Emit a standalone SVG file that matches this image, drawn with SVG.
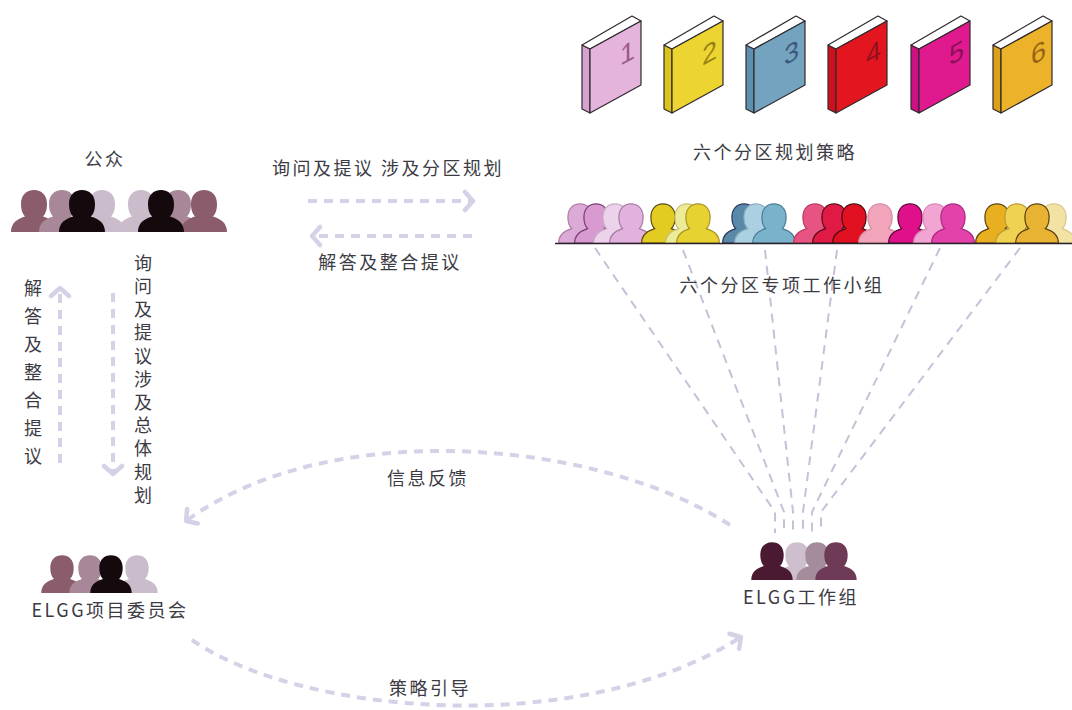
<svg xmlns="http://www.w3.org/2000/svg" xmlns:xlink="http://www.w3.org/1999/xlink" width="1072" height="710" viewBox="0 0 1072 710">
  <style>
    text { font-family: "Noto Sans CJK SC", "Noto Sans", sans-serif; fill: #3c3b44; font-size: 18px; }
    .lbl { letter-spacing: 2.5px; }
    .vert { writing-mode: tb; glyph-orientation-vertical: 0; }
    .num { font-family: "Liberation Sans", "Noto Sans", sans-serif; font-size: 27px; }
    .flow { fill: none; stroke: #d6d1e6; stroke-width: 4; stroke-dasharray: 9 7; }
    .fan { fill: none; stroke: #c6c0d8; stroke-width: 2; stroke-dasharray: 9 7; }
    .edge { stroke: #2e2a2e; stroke-width: 1.2; stroke-linejoin: round; }
    .crowd use { stroke-width: 1.3; }
  </style>
  <defs>
    <!-- head-and-shoulders silhouette, bottom centre at the origin, 42 tall -->
    <path id="person" d="M-23 0 C-23 -9 -17 -13 -9 -15.5 C-12 -18.5 -13 -23 -13 -28 C-13 -37 -7.5 -42 0 -42 C7.5 -42 13 -37 13 -28 C13 -23 12 -18.5 9 -15.5 C17 -13 23 -9 23 0 Z"/>
    <marker id="chev" markerUnits="userSpaceOnUse" markerWidth="20" markerHeight="24" viewBox="0 0 20 24" refX="11" refY="12" orient="auto">
      <path d="M3 3 L11 12 L3 21" fill="none" stroke="#d6d1e6" stroke-width="4.5" stroke-linecap="round" stroke-linejoin="round"/>
    </marker>
    <!-- one book: top (pages), spine side and cover -->
    <g id="book">
      <polygon class="edge" points="0,45 8,49 8,113 0,109" fill="var(--side)"/>
      <polygon class="edge" points="0,45 50,16 59,21 8,49" fill="#ffffff"/>
      <polygon class="edge" points="8,49 59,21 59,85 8,113" fill="var(--cover)"/>
    </g>
  </defs>

  <rect width="1072" height="710" fill="#ffffff"/>

  <!-- connectors -->
  <g id="connectors">
    <!-- inquiries / answers between the public and the district plans -->
    <path class="flow" d="M308 201 L473 201" marker-end="url(#chev)"/>
    <path class="flow" d="M472 236 L312 236" marker-end="url(#chev)"/>
    <!-- vertical exchange between the public and the committee -->
    <path class="flow" d="M60 463 L60 288" marker-end="url(#chev)"/>
    <path class="flow" d="M113 293 L113 474" marker-end="url(#chev)"/>
    <!-- feedback and guidance between the committee and the working group -->
    <path class="flow" d="M730 525 C600 440 330 415 186 521" marker-end="url(#chev)"/>
    <path class="flow" d="M192 640 C300 715 580 740 741 637" marker-end="url(#chev)"/>
    <!-- six district task groups to the working group -->
    <path class="fan" d="M595 248 L775 512 L775 533"/>
    <path class="fan" d="M683 250 L784 512 L784 533"/>
    <path class="fan" d="M765 250 L793 512 L793 533"/>
    <path class="fan" d="M837 250 L803 512 L803 533"/>
    <path class="fan" d="M940 248 L812 512 L812 533"/>
    <path class="fan" d="M1020 248 L821 512 L821 533"/>
  </g>

  <!-- six district planning strategies -->
  <g id="node-books">
    <g transform="translate(582,0)" style="--side:#d6a2cf;--cover:#e4b4dc">
      <use href="#book"/>
      <text class="num" transform="translate(38,66) skewY(-29)" style="fill:#9c5a8e">1</text>
    </g>
    <g transform="translate(664,0)" style="--side:#dcc21c;--cover:#ecd531">
      <use href="#book"/>
      <text class="num" transform="translate(38,66) skewY(-29)" style="fill:#9a8214">2</text>
    </g>
    <g transform="translate(746,0)" style="--side:#5f8fae;--cover:#74a3c0">
      <use href="#book"/>
      <text class="num" transform="translate(38,66) skewY(-29)" style="fill:#3c5a7c">3</text>
    </g>
    <g transform="translate(828,0)" style="--side:#cf0f1c;--cover:#e3161f">
      <use href="#book"/>
      <text class="num" transform="translate(38,66) skewY(-29)" style="fill:#8e1020">4</text>
    </g>
    <g transform="translate(911,0)" style="--side:#cf1083;--cover:#e01a8e">
      <use href="#book"/>
      <text class="num" transform="translate(38,66) skewY(-29)" style="fill:#8c1058">5</text>
    </g>
    <g transform="translate(993,0)" style="--side:#dca01a;--cover:#ebb22a">
      <use href="#book"/>
      <text class="num" transform="translate(38,66) skewY(-29)" style="fill:#946414">6</text>
    </g>
    <text class="lbl" x="775" y="159" text-anchor="middle">六个分区规划策略</text>
  </g>

  <!-- six district task groups -->
  <g id="node-task-groups" class="crowd">
    <!-- pink -->
    <use href="#person" transform="translate(580,243) scale(0.93)" fill="#dcaad6" stroke="#b07aa8"/>
    <use href="#person" transform="translate(596,243) scale(0.93)" fill="#d89ad0" stroke="#7a3c72"/>
    <use href="#person" transform="translate(615,243) scale(0.93)" fill="#ecd2ea" stroke="#c8a8c4"/>
    <use href="#person" transform="translate(631,243) scale(0.93)" fill="#e2b2de" stroke="#a87aa0"/>
    <!-- yellow -->
    <use href="#person" transform="translate(663,243) scale(0.93)" fill="#e2cc22" stroke="#5a4a10"/>
    <use href="#person" transform="translate(687,243) scale(0.93)" fill="#eceb98" stroke="#c8c070"/>
    <use href="#person" transform="translate(698,243) scale(0.93)" fill="#e8d232" stroke="#a89420"/>
    <!-- blue -->
    <use href="#person" transform="translate(744,243) scale(0.93)" fill="#5a88a8" stroke="#2a3a5a"/>
    <use href="#person" transform="translate(756,243) scale(0.93)" fill="#aad0e2" stroke="#88aac0"/>
    <use href="#person" transform="translate(774,243) scale(0.93)" fill="#7ab2cc" stroke="#4a7a98"/>
    <!-- red -->
    <use href="#person" transform="translate(815,243) scale(0.93)" fill="#e85482" stroke="#b83a60"/>
    <use href="#person" transform="translate(834,243) scale(0.93)" fill="#e01a44" stroke="#5a0a18"/>
    <use href="#person" transform="translate(854,243) scale(0.93)" fill="#e01020" stroke="#4a0810"/>
    <use href="#person" transform="translate(880,243) scale(0.93)" fill="#f2a4ba" stroke="#d888a0"/>
    <!-- magenta -->
    <use href="#person" transform="translate(910,243) scale(0.93)" fill="#e0108a" stroke="#5a0838"/>
    <use href="#person" transform="translate(935,243) scale(0.93)" fill="#f2a4d2" stroke="#d888b8"/>
    <use href="#person" transform="translate(953,243) scale(0.93)" fill="#e242aa" stroke="#a82a80"/>
    <!-- gold -->
    <use href="#person" transform="translate(997,243) scale(0.93)" fill="#e8b020" stroke="#5a4010"/>
    <use href="#person" transform="translate(1054,243) scale(0.93)" fill="#f2e2a4" stroke="#d8c888"/>
    <use href="#person" transform="translate(1017,243) scale(0.93)" fill="#f0d252" stroke="#b89a30"/>
    <use href="#person" transform="translate(1037,243) scale(0.93)" fill="#e8b232" stroke="#5a4010"/>
    <line x1="555" y1="243.5" x2="1072" y2="243.5" stroke="#2a2228" stroke-width="1.6"/>
    <text class="lbl" x="782" y="292" text-anchor="middle">六个分区专项工作小组</text>
  </g>

  <!-- the public -->
  <g id="node-public">
    <text class="lbl" x="105" y="166" text-anchor="middle">公众</text>
    <use href="#person" transform="translate(102,232)" fill="#cbbccb"/>
    <use href="#person" transform="translate(34,232)" fill="#8a5c6c"/>
    <use href="#person" transform="translate(62,232)" fill="#a88898"/>
    <use href="#person" transform="translate(82,232)" fill="#140a0e"/>
    <use href="#person" transform="translate(141,232)" fill="#cbbccb"/>
    <use href="#person" transform="translate(178,232)" fill="#a88898"/>
    <use href="#person" transform="translate(204,232)" fill="#8a5c6c"/>
    <use href="#person" transform="translate(161,232)" fill="#140a0e"/>
  </g>

  <!-- labels on the exchanges -->
  <g id="labels">
    <text class="lbl" x="388" y="175" text-anchor="middle">询问及提议 涉及分区规划</text>
    <text class="lbl" x="390" y="269" text-anchor="middle">解答及整合提议</text>
    <text class="vert" x="33" y="279" style="letter-spacing:10px">解答及整合提议</text>
    <text class="vert" x="143" y="254" style="letter-spacing:5.2px">询问及提议涉及总体规划</text>
    <text class="lbl" x="428" y="485" text-anchor="middle">信息反馈</text>
    <text class="lbl" x="430" y="695" text-anchor="middle">策略引导</text>
  </g>

  <!-- project committee -->
  <g id="node-committee">
    <use href="#person" transform="translate(137,593) scale(0.9)" fill="#cbbccb"/>
    <use href="#person" transform="translate(62,593) scale(0.9)" fill="#8a5c6c"/>
    <use href="#person" transform="translate(90,593) scale(0.9)" fill="#a88898"/>
    <use href="#person" transform="translate(111,593) scale(0.9)" fill="#140a0e"/>
    <text class="lbl" x="110" y="617" text-anchor="middle">ELGG项目委员会</text>
  </g>

  <!-- working group -->
  <g id="node-working-group">
    <use href="#person" transform="translate(797,580) scale(0.9)" fill="#cdbfcd"/>
    <use href="#person" transform="translate(817,580) scale(0.9)" fill="#a48c9c"/>
    <use href="#person" transform="translate(772,580) scale(0.9)" fill="#4a1a32"/>
    <use href="#person" transform="translate(836,580) scale(0.9)" fill="#6e3a55"/>
    <text class="lbl" x="801" y="604" text-anchor="middle">ELGG工作组</text>
  </g>
</svg>
